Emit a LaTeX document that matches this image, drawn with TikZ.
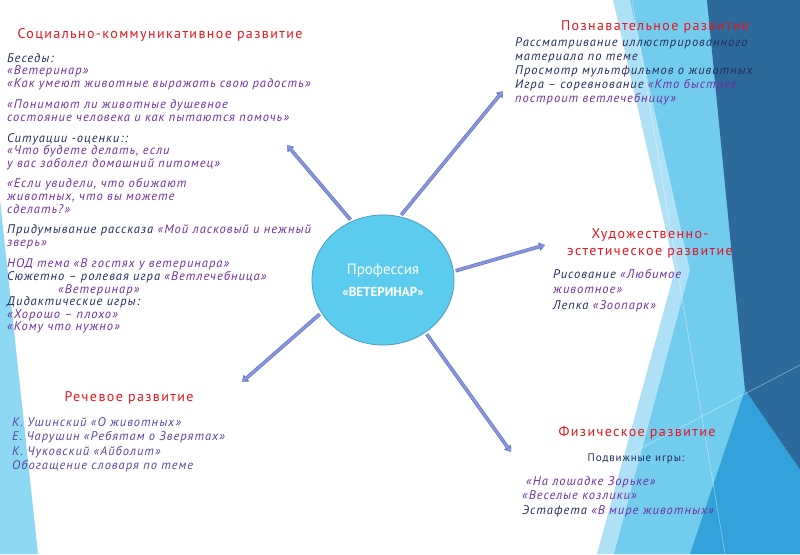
\documentclass[tikz,border=0pt]{standalone}
\usepackage{fontspec}
\usepackage{xcolor}
\setmainfont{PT Sans}
\newfontfamily\textschrift[LetterSpace=8]{PT Sans}
\newfontfamily\titelschrift[LetterSpace=10]{PT Sans}
\usetikzlibrary{arrows.meta, shapes.geometric}

\definecolor{titelrot}{HTML}{E8141C}
\definecolor{navy}{HTML}{232D5E}
\definecolor{lila}{HTML}{7030A0}
\definecolor{violett}{HTML}{5B45A5}
\definecolor{kreisblau}{HTML}{5BCBEE}
\definecolor{kreisrand}{HTML}{4B9DBF}
\definecolor{lavendel}{HTML}{8E90E0}
\definecolor{pfeilrand}{HTML}{5D7FC0}
\definecolor{hellblau}{HTML}{8DD8F2}
\definecolor{blassblau}{HTML}{AEE1F6}
\definecolor{himmelblau}{HTML}{72CCEE}
\definecolor{dunkelblau}{HTML}{2C6A9C}
\definecolor{mittelblau}{HTML}{33A2DA}

\newcommand{\dk}[1]{\textcolor{navy}{#1}}

\tikzset{
	titel/.style={inner sep=0, text=titelrot, align=center,
		font=\fontsize{14}{17}\titelschrift},
	block/.style={inner sep=0, anchor=north west, align=left, text=lila,
		font=\fontsize{12.5}{#1}\textschrift\itshape},
	pfeil/.style={line width=2.2pt, draw=lavendel, shorten <=2pt,
		-{Triangle[length=4pt, width=5.5pt]},
		preaction={draw=pfeilrand, line width=3.6pt,
			-{Triangle[length=6pt, width=8.5pt]}}},
	linie/.style={draw=white, line width=0.5pt, opacity=0.5}
}

\begin{document}
\begin{tikzpicture}[x=1pt, y=-1pt]
	\useasboundingbox (0,0) rectangle (800,554);
	\fill[white] (0,0) rectangle (800,554);
	% hintergrund links
	\fill[hellblau] (0,200) -- (38,554) -- (0,554) -- cycle;
	% hintergrund rechts
	\fill[blassblau] (613,0) -- (800,0) -- (800,554) -- (597,554) -- (675,270) -- cycle;
	\fill[himmelblau] (630,0) -- (800,0) -- (800,554) -- (614,554) -- (690,270) -- cycle;
	\fill[dunkelblau] (707,0) -- (800,0) -- (800,470) -- (745,390) -- cycle;
	\fill[mittelblau] (690,554) -- (745,390) -- (800,470) -- (800,554) -- cycle;
	\draw[linie] (632,0) -- (725,554);
	\draw[linie] (500,522) -- (800,365);

	% der kreis in der mitte
	\node (vet) [ellipse, draw=kreisrand, fill=kreisblau, line width=0.8pt,
		minimum width=142pt, minimum height=130pt, inner sep=0,
		text=white, align=center] at (383,280)
		{\fontsize{15}{18}\selectfont Профессия\\[9pt]
		 \fontsize{13}{16}\selectfont\bfseries «ВЕТЕРИНАР»};

	% pfeile
	\coordinate (sozialpfeil) at (287,145);
	\coordinate (kognpfeil) at (503,91);
	\coordinate (kunstpfeil) at (545,245);
	\coordinate (sprachpfeil) at (242,382);
	\coordinate (sportpfeil) at (511,452);
	\draw[pfeil] (vet.118) -- (sozialpfeil);
	\draw[pfeil] (vet.75) -- (kognpfeil);
	\draw[pfeil] (vet.7) -- (kunstpfeil);
	\draw[pfeil] (vet.208) -- (sprachpfeil);
	\draw[pfeil] (vet.309) -- (sportpfeil);

	% sozial
	\node (sozial) [titel] at (160,35) {Социально-коммуникативное развитие};
	\node (sozialtext) [block=12.6] at (7,53) {%
		\dk{Беседы:}\\
		«Ветеринар»\\
		«Как умеют животные выражать свою радость»\\[9pt]
		«Понимают ли животные душевное\\
		состояние человека и как пытаются помочь»\\[8pt]
		\dk{Ситуации -оценки::}\\
		«Что будете делать, если\\
		у вас заболел домашний питомец»\\[8pt]
		«Если увидели, что обижают\\
		животных, что вы можете\\
		сделать?»\\[8pt]
		\dk{Придумывание рассказа} «Мой ласковый и нежный\\
		зверь»\\[9pt]
		НОД тема «В гостях у ветеринара»\\
		\dk{Сюжетно – ролевая игра} «Ветлечебница»\\
		\hspace*{51pt}«Ветеринар»\\
		\dk{Дидактические игры:}\\
		«Хорошо – плохо»\\
		«Кому что нужно»};

	% kognitiv
	\node (kogn) [titel] at (655,27) {Познавательное развитие};
	\node (kogntext) [block=14, text=navy] at (515,37) {%
		Рассматривание иллюстрированного\\
		материала по теме\\
		Просмотр мультфильмов о животных\\
		Игра – соревнование \textcolor{lila}{«Кто быстрее}\\
		\textcolor{lila}{построит ветлечебницу»}};

	% kunst
	\node (kunst) [titel] at (650,243) {Художественно-\\эстетическое развитие};
	\node (kunsttext) [block=15.5] at (553,269) {%
		\dk{Рисование} «Любимое\\
		животное»\\
		\dk{Лепка} «Зоопарк»};

	% sprache
	\node (sprache) [titel] at (129,398) {Речевое развитие};
	\node (sprachtext) [block=14.6, text=violett] at (12,417) {%
		К. Ушинский «О животных»\\
		Е. Чарушин «Ребятам о Зверятах»\\
		К. Чуковский «Айболит»\\
		Обогащение словаря по теме};

	% sport
	\node (sport) [titel] at (637,433) {Физическое развитие};
	\node (spiele) [inner sep=0, text=navy, font=\fontsize{11}{13}\textschrift]
		at (636,459) {Подвижные игры:};
	\node (sporttext) [block=14.5] at (522,476) {%
		\hspace*{4pt}«На лошадке Зорьке»\\
		«Веселые козлики»\\
		\dk{Эстафета} «В мире животных»};
\end{tikzpicture}
\end{document}
